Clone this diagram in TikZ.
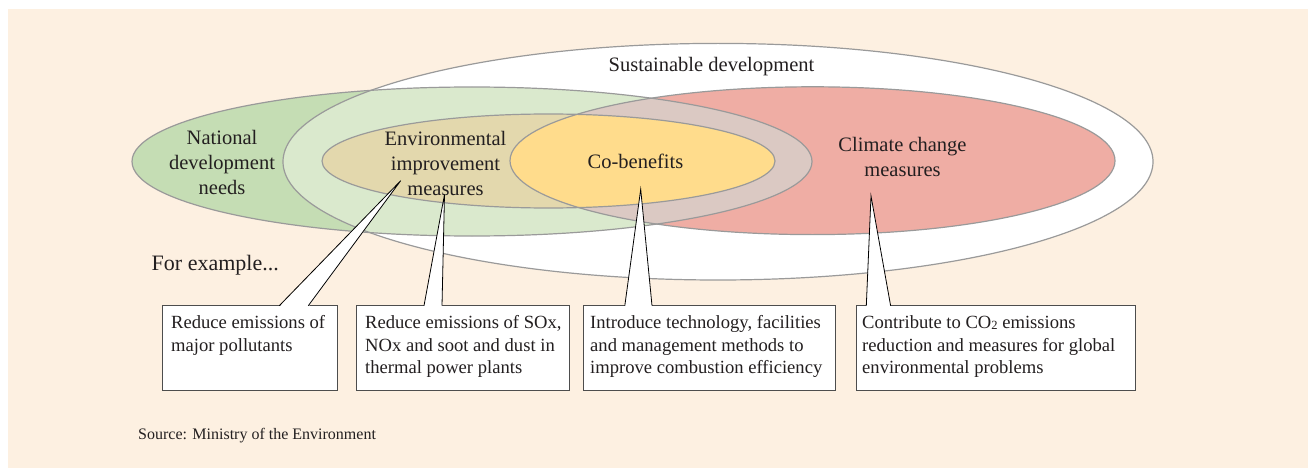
\documentclass[tikz,border=0pt]{standalone}
\usepackage{fontspec}
\setmainfont{Liberation Serif}
\usetikzlibrary{calc}
\definecolor{cream}{HTML}{FDF0E1}
\definecolor{greenD}{HTML}{C5DDB4}
\definecolor{greenL}{HTML}{DAE9CD}
\definecolor{tanC}{HTML}{E3D8AD}
\definecolor{yellowC}{HTML}{FFDC8C}
\definecolor{greyP}{HTML}{DBC9C3}
\definecolor{redC}{HTML}{EFADA4}
\definecolor{edge}{HTML}{9A9A9A}
\definecolor{boxline}{HTML}{4D4D4D}
\definecolor{ink}{HTML}{231F20}
\begin{document}
\begin{tikzpicture}[x=1pt,y=-1pt,
  lbl/.style={font=\fontsize{20.5}{25}\selectfont, text=ink, inner sep=0pt, align=center},
  boxtxt/.style={font=\fontsize{18.6}{22.5}\selectfont, text=ink, inner sep=0pt, align=left, anchor=north west},
  exbox/.style={draw=boxline, fill=white, line width=0.9pt, inner sep=0pt, outer sep=0pt, anchor=north west, minimum height=84.3pt},
  outline/.style={draw=edge, line width=1.2pt},
  callout/.style={draw=black, line width=0.8pt, line join=miter}
]
\useasboundingbox (0,0) rectangle (1308,468);
\fill[cream] (8,9) rectangle (1308,468);
% region fills
\fill[white] (718,161.7) ellipse [x radius=435pt, y radius=118.3pt];
\fill[greenD] (472,161.5) ellipse [x radius=340pt, y radius=74.5pt];
\begin{scope}
  \clip (718,161.7) ellipse [x radius=435pt, y radius=118.3pt];
  \fill[greenL] (472,161.5) ellipse [x radius=340pt, y radius=74.5pt];
\end{scope}
\fill[redC] (812.5,160.7) ellipse [x radius=302.5pt, y radius=73.9pt];
\begin{scope}
  \clip (472,161.5) ellipse [x radius=340pt, y radius=74.5pt];
  \fill[greyP] (812.5,160.7) ellipse [x radius=302.5pt, y radius=73.9pt];
\end{scope}
\fill[tanC] (548.5,161) ellipse [x radius=226.5pt, y radius=47pt];
\begin{scope}
  \clip (548.5,161) ellipse [x radius=226.5pt, y radius=47pt];
  \fill[yellowC] (812.5,160.7) ellipse [x radius=302.5pt, y radius=73.9pt];
\end{scope}
% outlines
\draw[outline] (718,161.7) ellipse [x radius=435pt, y radius=118.3pt];
\draw[outline] (472,161.5) ellipse [x radius=340pt, y radius=74.5pt];
\draw[outline] (812.5,160.7) ellipse [x radius=302.5pt, y radius=73.9pt];
\draw[outline] (548.5,161) ellipse [x radius=226.5pt, y radius=47pt];
% labels
\node[lbl, anchor=base] (sus) at (711.5,72) {Sustainable development};
\node[lbl] (nat) at (222,162) {National\\development\\needs};
\node[lbl] (env) at (445.5,163.5) {Environmental\\improvement\\measures};
\node[lbl, anchor=base] (cob) at (635.5,168.3) {Co-benefits};
\node[lbl] (clim) at (902.5,157.2) {Climate change\\measures};
\node[font=\fontsize{22}{26}\selectfont, text=ink, anchor=base west, inner sep=0pt] (ex) at (151.5,270) {For example...};
% boxes
\node[exbox, minimum width=175pt] (b1) at (162.7,305.7) {};
\node[exbox, minimum width=212.3pt] (b2) at (356.7,305.7) {};
\node[exbox, minimum width=252pt] (b3) at (583.3,305.7) {};
\node[exbox, minimum width=279pt] (b4) at (856,305.7) {};
% callout tips
\coordinate (p1) at (400.7,180.7);
\coordinate (p2) at (444.5,194.5);
\coordinate (p3) at (640.7,189.3);
\coordinate (p4) at (871,196);
% callouts
\fill[white] (p1) -- ($(b1.north west)+(116.6,1.2)$) -- ($(b1.north west)+(145.6,1.2)$) -- cycle;
\draw[callout] ($(b1.north west)+(116.6,0)$) -- (p1) -- ($(b1.north west)+(145.6,0)$);
\fill[white] (p2) -- ($(b2.north west)+(67.3,1.2)$) -- ($(b2.north west)+(85.3,1.2)$) -- cycle;
\draw[callout] ($(b2.north west)+(67.3,0)$) -- (p2) -- ($(b2.north west)+(85.3,0)$);
\fill[white] (p3) -- ($(b3.north west)+(41.5,1.2)$) -- ($(b3.north west)+(68.7,1.2)$) -- cycle;
\draw[callout] ($(b3.north west)+(41.5,0)$) -- (p3) -- ($(b3.north west)+(68.7,0)$);
\fill[white] (p4) -- ($(b4.north west)+(10.3,1.2)$) -- ($(b4.north west)+(34.6,1.2)$) -- cycle;
\draw[callout] ($(b4.north west)+(10.3,0)$) -- (p4) -- ($(b4.north west)+(34.6,0)$);
% box texts
\node[boxtxt] (t1) at (171,315.6) {Reduce emissions of\\major pollutants};
\node[boxtxt] (t2) at (365,315.6) {Reduce emissions of SOx,\\NOx and soot and dust in\\thermal power plants};
\node[boxtxt] (t3) at (590,315.6) {Introduce technology, facilities\\and management methods to\\improve combustion efficiency};
\node[boxtxt] (t4) at (862,315.6) {Contribute to CO\raisebox{-0.5pt}{\fontsize{12.5}{12}\selectfont 2} emissions\\reduction and measures for global\\environmental problems};
% source
\node[font=\fontsize{16}{19}\selectfont, text=ink, anchor=base west, inner sep=0pt] (src) at (138,439) {Source: Ministry of the Environment};
\end{tikzpicture}
\end{document}
